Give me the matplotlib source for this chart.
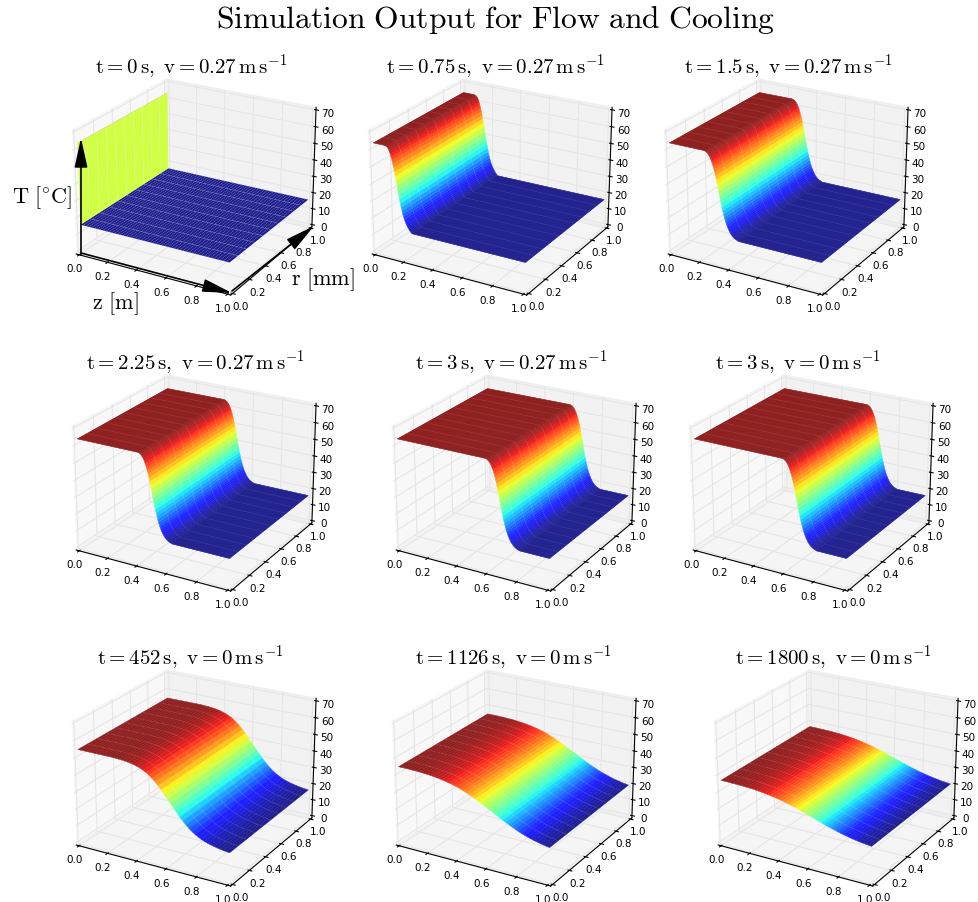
import numpy as np
import matplotlib
matplotlib.use('Agg')
import matplotlib.pyplot as plt
from matplotlib.colors import ListedColormap
from mpl_toolkits.mplot3d import Axes3D

plt.rcParams['mathtext.fontset'] = 'cm'
plt.rcParams['font.family'] = 'DejaVu Sans'
plt.rcParams['axes3d.automargin'] = True

W, H = 979, 902

# mallas: z mas fina en los frentes abruptos, mas gruesa en el enfriamiento; r cada 0.1 mm
z_fino = [i * 0.005 for i in range(201)]
z_grid = [i * 0.02 for i in range(51)]
r_grid = [0.0, 0.1, 0.2, 0.3, 0.4, 0.5, 0.6, 0.7, 0.8, 0.9, 1.0]

z_t0 = [0.0, 0.001, 0.002] + z_grid[1:]
T_t0 = [64, 64, 16] + [16] * 50
face_t0 = [64, 44.5, 16] + [16] * 50

frente = [63.9, 63.8, 63.6, 63.3, 62.9, 62.4, 61.8, 61, 60.1, 59, 57.8, 56.4, 54.9, 53.2, 51.3, 49.2, 47.1, 44.8, 42.4, 40.1, 37.9, 35.7,
          33.6, 31.7, 29.9, 28.2, 26.6, 25.2, 24, 22.9, 21.9, 21, 20.2, 19.5, 18.9, 18.4, 17.9, 17.5, 17.2, 16.9, 16.7, 16.5, 16.3, 16.1]
T_075 = [64] * 16 + [63.9, 63.8, 63.6, 63.3, 62.8, 62, 61, 59.7, 58.2, 56.5, 54.6, 52.4, 50.1, 47.7, 45.1, 42.4, 39.8, 37.2, 34.7, 32.3,
                     30.1, 28.1, 26.3, 24.8, 23.4, 22.2, 21.2, 20.3, 19.5, 18.8, 18.1, 17.4, 16.9, 16.4] + [16] * 151
T_150 = [64] * 48 + frente + [16] * 109
T_225 = [64] * 82 + frente + [16] * 75
T_300 = [64] * 118 + frente + [16] * 39
T_452 = [55] * 13 + [54.9, 54.8, 54.7, 54.5, 54.3, 54, 53.6, 53.1, 52.5, 51.7, 50.8, 49.6, 48.2, 46.6, 44.8, 42.8, 40.7, 38.5, 36.3, 34.1,
                     31.9, 29.8, 27.9, 26.1, 24.5, 23.1, 21.9, 20.9, 20, 19.3, 18.7, 18.2, 17.8, 17.4, 17.1, 16.8, 16.6, 16.4]
T_1126 = [45, 45, 45, 45, 45, 44.9, 44.9, 44.8, 44.7, 44.6, 44.5, 44.3, 44.1, 43.9, 43.6, 43.3, 43, 42.6, 42.2, 41.7, 41.2, 40.6, 39.9, 39.2, 38.5,
          37.7, 36.8, 35.9, 35, 34.1, 33.1, 32.2, 31.2, 30.3, 29.3, 28.4, 27.5, 26.6, 25.8, 25, 24.2, 23.5, 22.9, 22.3, 21.7, 21.2, 20.8, 20.4, 20, 19.7, 19.4]
T_1800 = [37, 37, 37, 37, 36.9, 36.9, 36.8, 36.8, 36.7, 36.6, 36.5, 36.4, 36.2, 36, 35.8, 35.6, 35.3, 35, 34.7, 34.4, 34, 33.6, 33.2, 32.7, 32.2,
          31.7, 31.2, 30.6, 30, 29.4, 28.8, 28.2, 27.6, 27, 26.4, 25.8, 25.2, 24.7, 24.2, 23.7, 23.2, 22.8, 22.4, 22, 21.6, 21.3, 21, 20.7, 20.5, 20.3, 20.1]

titles = [r'$\mathrm{t{=}0\,s,\ v{=}0.27\,m\,s^{-1}}$', r'$\mathrm{t{=}0.75\,s,\ v{=}0.27\,m\,s^{-1}}$', r'$\mathrm{t{=}1.5\,s,\ v{=}0.27\,m\,s^{-1}}$',
          r'$\mathrm{t{=}2.25\,s,\ v{=}0.27\,m\,s^{-1}}$', r'$\mathrm{t{=}3\,s,\ v{=}0.27\,m\,s^{-1}}$', r'$\mathrm{t{=}3\,s,\ v{=}0\,m\,s^{-1}}$',
          r'$\mathrm{t{=}452\,s,\ v{=}0\,m\,s^{-1}}$', r'$\mathrm{t{=}1126\,s,\ v{=}0\,m\,s^{-1}}$', r'$\mathrm{t{=}1800\,s,\ v{=}0\,m\,s^{-1}}$']
perfiles = [T_t0, T_075, T_150, T_225, T_300, T_300, T_452, T_1126, T_1800]
mallas = [z_t0, z_fino, z_fino, z_fino, z_fino, z_fino, z_grid, z_grid, z_grid]

# centro de cada titulo y esquina izquierda de cada panel, en pixeles
title_xy = [(191, 67), (495, 67), (788, 67), (195, 363), (511, 363), (798, 363), (190, 658), (513, 658), (833, 658)]
panel_xy = [(73, 49), (369, 49), (665, 49), (73, 345), (393, 345), (690, 345), (73, 640), (393, 640), (715, 640)]
PANEL_W, PANEL_H = 260, 270


def px(x, y):
    return x / W, 1 - y / H


# jet mezclado con blanco: da el tono apagado de la superficie sin costuras entre caras
jet_rgb = plt.cm.jet(np.arange(256))[:, :3] * 0.88 + 0.12
jet_suave = ListedColormap(jet_rgb)

fig = plt.figure(figsize=(W / 100, H / 100), dpi=100)
fig.text(*px(495, 20), r'$\mathrm{Simulation\ Output\ for\ Flow\ and\ Cooling}$', fontsize=22.7, ha='center', va='center')

for i, T in enumerate(perfiles):
    x0, y0 = panel_xy[i]
    ax = fig.add_axes([(x0 - 10) / W, 1 - (y0 + PANEL_H) / H, PANEL_W / W, PANEL_H / H], projection='3d')
    ax.computed_zorder = False
    ax.view_init(elev=23, azim=-60)
    ax.set_box_aspect((1.09, 1.09, 0.82), zoom=1.05)
    Z, R = np.meshgrid(mallas[i], r_grid)
    TT = np.tile(np.array(T, dtype=float), (len(r_grid), 1))
    if i == 0:
        # el muro de t=0 lleva su propio color de cara
        norm = plt.Normalize(16, 64)
        colores = jet_suave(norm(np.tile(np.array(face_t0), (len(r_grid), 1))))
        ax.plot_surface(Z, R, TT, facecolors=colores, shade=False, rcount=len(r_grid), ccount=len(z_t0), linewidth=0, antialiased=True)
    else:
        surf = ax.plot_surface(Z, R, TT, cmap=jet_suave, rcount=len(r_grid), ccount=len(mallas[i]), linewidth=0.3, antialiased=True)
        surf.set_edgecolor('face')
    ax.plot_wireframe(Z, R, TT, rcount=len(r_grid), ccount=0, color='w', linewidth=0.5, alpha=0.12)
    ax.set_xlim(0, 1)
    ax.set_ylim(0, 1)
    ax.set_zlim(0, 70)
    ax.set_xticks([0, 0.2, 0.4, 0.6, 0.8, 1.0])
    ax.set_yticks([0, 0.2, 0.4, 0.6, 0.8, 1.0])
    ax.set_zticks([0, 10, 20, 30, 40, 50, 60, 70])
    ax.tick_params(labelsize=7.5, pad=-3)
    for eje in (ax.xaxis, ax.yaxis, ax.zaxis):
        eje._axinfo['grid']['color'] = (0.9, 0.9, 0.9, 1)
        eje._axinfo['grid']['linewidth'] = 0.8
    fig.text(*px(*title_xy[i]), titles[i], fontsize=15, ha='center', va='center')

# flechas y etiquetas del primer panel
for ini, fin in [((81, 255), (81, 138)), ((81, 253), (232, 293)), ((232, 291), (314, 226))]:
    fig.add_artist(matplotlib.patches.FancyArrowPatch(px(*ini), px(*fin), transform=fig.transFigure, shrinkA=0, shrinkB=0,
                   arrowstyle='-|>,head_length=1.0,head_width=0.22', mutation_scale=18, color='k', lw=1.2))
fig.text(*px(42, 198), r'$\mathrm{T\ [^{\circ}C]}$', fontsize=16, ha='center', va='center')
fig.text(*px(115, 304), r'$\mathrm{z\ [m]}$', fontsize=16, ha='center', va='center')
fig.text(*px(323, 280), r'$\mathrm{r\ [mm]}$', fontsize=16, ha='center', va='center')

fig.savefig('out.png', dpi=100)
